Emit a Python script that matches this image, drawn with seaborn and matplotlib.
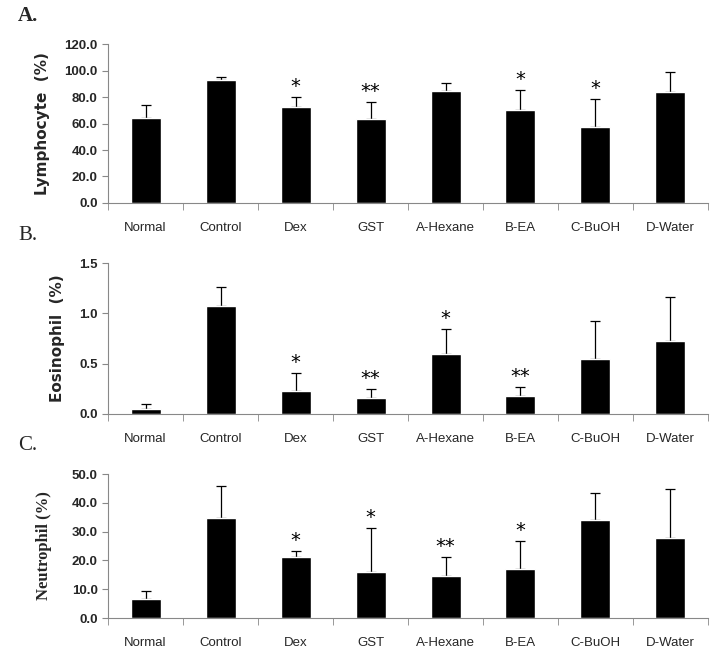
import seaborn as sns
import matplotlib.pyplot as plt
import numpy as np
import pandas as pd

groups = ["Normal", "Control", "Dex", "GST", "A-Hexane", "B-EA", "C-BuOH", "D-Water"]

lympho = [64.0, 92.6, 72.3, 63.3, 84.4, 70.0, 57.2, 83.6]
lympho_sd = [10.1, 2.8, 8.0, 12.8, 6.5, 15.6, 21.6, 15.1]
lympho_sig = ["", "", "*", "**", "", "*", "*", ""]

eosino = [0.046, 1.072, 0.224, 0.155, 0.599, 0.174, 0.549, 0.727]
eosino_sd = [0.054, 0.194, 0.184, 0.095, 0.243, 0.096, 0.372, 0.434]
eosino_sig = ["", "", "*", "**", "*", "**", "", ""]

neutro = [6.6, 34.7, 21.2, 16.0, 14.7, 17.0, 34.0, 27.9]
neutro_sd = [2.8, 11.1, 2.1, 15.2, 6.5, 9.7, 9.4, 17.0]
neutro_sig = ["", "", "*", "*", "**", "*", "", ""]

sns.set_style("white")
plt.rcParams['font.family'] = ['Liberation Sans', 'DejaVu Sans']

fig = plt.figure(figsize=(7.22, 6.61), dpi=100)

panels = [
    ("A.", lympho, lympho_sd, lympho_sig, "Lymphocyte  (%)", (0, 120), np.arange(0, 121, 20),
     [0.1496, 0.6929, 0.831, 0.2405], "sans"),
    ("B.", eosino, eosino_sd, eosino_sig, "Eosinophil  (%)", (0, 1.5), np.arange(0, 1.51, 0.5),
     [0.1496, 0.3737, 0.831, 0.2284], "sans"),
    ("C.", neutro, neutro_sd, neutro_sig, "Neutrophil (%)", (0, 50), np.arange(0, 51, 10),
     [0.1496, 0.065, 0.831, 0.2179], "serif"),
]

for letter, vals, sds, sig, ylab, ylim, yticks, pos, labfont in panels:
    ax = fig.add_axes(pos)
    df = pd.DataFrame({"group": groups, "value": vals})
    sns.barplot(data=df, x="group", y="value", color="black", width=0.4,
                errorbar=None, ax=ax, saturation=1, zorder=2)
    ax.errorbar(np.arange(len(groups)), vals, yerr=[np.zeros(len(vals)), sds],
                fmt="none", ecolor="black", elinewidth=0.9, capsize=3.5, capthick=0.9,
                zorder=1)
    span = ylim[1] - ylim[0]
    for i, s in enumerate(sig):
        if s:
            ax.text(i, vals[i] + sds[i] + span * 0.005, s, ha="center", va="bottom",
                    fontsize=14, family="DejaVu Sans", color="black")
    ax.set_ylim(*ylim)
    ax.set_xlim(-0.5, 7.5)
    ax.set_yticks(yticks)
    ax.set_yticklabels([f"{t:.1f}" for t in yticks], fontsize=9.5, fontweight="bold")
    ax.set_xticks(range(len(groups)))
    ax.set_xticklabels(groups, fontsize=9.5)
    ax.set_xticks(np.arange(-0.5, 8, 1), minor=True)
    ax.tick_params(axis="x", which="major", length=0, pad=14)
    ax.tick_params(axis="x", which="minor", length=5, color="#888888", direction="out", bottom=True)
    ax.tick_params(axis="y", length=4, color="#888888", direction="out", left=True)
    ax.set_xlabel("")
    if labfont == "serif":
        ax.set_ylabel(ylab, fontsize=12, fontweight="bold", family="Liberation Serif", labelpad=14)
    else:
        ax.set_ylabel(ylab, fontsize=11, fontweight="bold", family="DejaVu Sans", labelpad=10)
    for sp in ["top", "right"]:
        ax.spines[sp].set_visible(False)
    for sp in ["left", "bottom"]:
        ax.spines[sp].set_color("#888888")
        ax.spines[sp].set_linewidth(0.8)
    fig.text(0.025, pos[1] + pos[3] + 0.028, letter, fontsize=15, family="Liberation Serif",
             fontweight="bold" if letter == "A." else "normal", va="bottom")

fig.savefig("out.png", dpi=100, facecolor="white")
